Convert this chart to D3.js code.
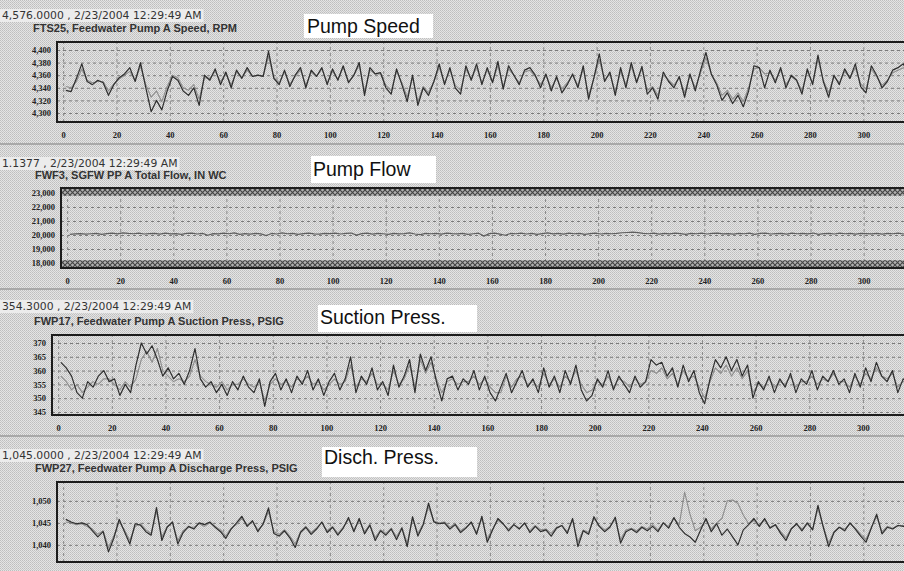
<!DOCTYPE html>
<html>
<head>
<meta charset="utf-8">
<script src="https://cdn.jsdelivr.net/npm/d3@7"></script>
<style>
  html, body { margin: 0; padding: 0; background: #d6d6d6; }
  svg { display: block; }
  .readout { font-family: 'DejaVu Sans', sans-serif; font-size: 10.8px; fill: #333; }
  .tagname { font-family: 'Liberation Sans', Arial, sans-serif; font-size: 11px; font-weight: bold; fill: #333; }
  .big-label { font-family: 'Liberation Sans', Arial, sans-serif; font-size: 19.5px; fill: #111; }
  .tick text { font-family: 'Liberation Serif', serif; font-size: 8.5px; font-weight: bold; fill: #222; }
</style>
</head>
<body>
<div id="chart"></div>
<script>
// trend samples, one every 2 seconds starting at t = 1
var x_ticks = [0, 20, 40, 60, 80, 100, 120, 140, 160, 180, 200, 220, 240, 260, 280, 300];

// FTS25 pump speed, RPM (dark pen and light pen)
var speed_a = [
  4336,4334,4355,4378,4350,4345,4352,4348,4328,4345,
  4356,4362,4372,4350,4380,4340,4302,4320,4305,4335,
  4358,4352,4335,4328,4340,4312,4360,4352,4370,4345,
  4365,4340,4368,4355,4372,4358,4360,4358,4398,4355,
  4345,4368,4342,4360,4372,4340,4368,4358,4372,4345,
  4370,4352,4375,4348,4360,4380,4328,4372,4362,4364,
  4340,4330,4370,4345,4318,4360,4312,4340,4328,4350,
  4378,4345,4372,4340,4330,4375,4352,4378,4345,4372,
  4348,4382,4338,4375,4360,4345,4368,4372,4360,4340,
  4362,4335,4358,4332,4345,4362,4340,4375,4322,4356,
  4394,4350,4365,4328,4372,4340,4380,4348,4374,4330,
  4340,4322,4365,4350,4340,4358,4325,4362,4335,4368,
  4396,4362,4345,4320,4332,4315,4328,4310,4335,4375,
  4372,4340,4368,4348,4372,4340,4360,4352,4330,4370,
  4345,4392,4350,4325,4360,4345,4370,4355,4378,4342,
  4332,4375,4360,4340,4350,4368,4372,4378,4360
];
var speed_b = [
  4342,4340,4350,4370,4352,4348,4350,4350,4335,4346,
  4354,4360,4366,4352,4374,4345,4325,4335,4318,4342,
  4360,4356,4340,4336,4345,4322,4356,4355,4366,4350,
  4362,4345,4365,4356,4368,4358,4360,4358,4390,4356,
  4348,4365,4346,4358,4368,4344,4365,4358,4370,4348,
  4366,4354,4372,4350,4360,4376,4334,4368,4362,4362,
  4344,4335,4366,4348,4325,4356,4318,4342,4332,4350,
  4372,4348,4368,4344,4336,4370,4354,4372,4348,4368,
  4350,4375,4342,4370,4360,4348,4365,4368,4358,4345,
  4360,4340,4355,4338,4348,4360,4344,4370,4328,4355,
  4385,4352,4362,4334,4366,4345,4374,4350,4370,4336,
  4342,4328,4360,4352,4344,4356,4332,4360,4340,4364,
  4388,4362,4348,4328,4336,4322,4332,4318,4340,4370,
  4372,4362,4364,4352,4368,4345,4358,4352,4335,4366,
  4348,4385,4352,4332,4358,4348,4366,4355,4372,4346,
  4338,4370,4358,4344,4352,4364,4368,4372,4364
];

// FWF3 total flow, IN WC
var flow = [
  20050,20080,20100,20060,20090,20120,20040,20100,20130,20080,
  20150,20110,20090,20140,20070,20100,20120,20060,20130,20080,
  20100,20050,20110,20140,20070,20120,19980,20100,20080,20130,
  20090,20150,20040,20100,20060,20120,20080,19960,20110,20070,
  20150,20090,20120,20050,20100,20140,20080,20060,20120,20100,
  20130,20070,20110,20140,19990,20100,20130,20060,20110,20090,
  20040,20120,20080,20100,20150,20070,20030,20110,20090,20120,
  20060,20140,20100,20080,20120,20050,20090,20130,19920,20100,
  20140,20060,19980,20110,20090,20130,20070,20120,20040,20100,
  20150,20080,20110,20060,20130,20090,20120,20050,20100,20140,
  20070,20110,20090,20120,20160,20180,20200,20170,20120,20090,
  20130,20060,20110,20080,20140,20100,20050,20120,20090,20130,
  20070,20110,20140,20080,20100,20060,20120,20090,20130,20050,
  20110,20140,20070,20100,20120,20060,20130,20090,20110,20080,
  20140,20050,20100,20120,20070,20130,20090,20110,20060,20120,
  20100,20080,20110,20060,20120,20090,20130,20070,20100
];
var flow_limits = [[22800, 23360], [17640, 18200]];

// FWP17 suction press, PSIG
var suction_a = [
  363,361,358,352,350,356,354,358,360,356,
  357,351,355,352,362,370,366,369,364,358,
  361,357,359,355,360,368,357,354,356,352,
  355,351,356,353,358,354,352,357,347,356,
  359,353,357,352,358,355,360,353,357,351,
  356,359,353,357,365,352,358,355,361,353,
  356,351,362,354,358,364,352,366,360,365,
  356,349,357,358,353,357,355,360,353,358,
  352,349,354,359,352,356,360,354,357,352,
  361,354,358,352,360,355,362,353,349,351,
  357,354,360,353,358,355,352,358,354,356,
  364,362,363,358,361,354,362,356,360,352,
  348,357,364,361,365,360,364,358,362,350,
  356,353,358,352,357,354,359,352,357,355,
  360,353,358,356,360,355,357,352,359,354,
  361,356,363,358,356,360,352,357,355
];
var suction_b = [
  358,356,353,355,352,354,356,355,357,357,
  355,353,356,354,357,364,367,363,368,360,
  358,356,357,356,358,364,358,356,355,354,
  356,353,355,355,357,355,354,356,349,355,
  357,355,356,354,357,356,358,355,356,353,
  355,357,355,356,362,354,357,356,359,355,
  355,353,360,355,357,362,354,364,359,363,
  357,352,356,357,355,356,356,358,355,357,
  354,352,352,358,354,357,358,355,356,354,
  359,355,357,354,358,356,360,355,352,353,
  356,355,358,354,357,356,354,357,355,356,
  360,359,361,357,359,355,360,357,358,354,
  350,356,361,359,362,358,361,357,360,352,
  355,354,357,354,356,355,358,354,356,356,
  358,355,357,356,359,356,356,354,358,355,
  359,357,361,358,357,359,354,356,356
];

// FWP27 discharge press, PSIG
var discharge_a = [
  1045.8,1045.2,1044.8,1045.0,1044.6,1043.2,1041.8,1043.0,1038.4,1041.5,
  1045.8,1043.0,1040.2,1044.8,1044.5,1043.0,1042.2,1048.5,1041.0,1044.0,
  1045.2,1040.2,1042.8,1044.2,1043.6,1045.0,1044.6,1045.2,1044.0,1043.0,
  1041.5,1043.6,1045.0,1046.5,1044.2,1045.5,1043.0,1044.8,1048.4,1042.6,
  1042.0,1043.2,1041.6,1039.4,1042.8,1044.0,1042.4,1043.6,1045.2,1042.8,
  1044.0,1042.2,1043.8,1046.2,1043.0,1046.0,1042.5,1044.5,1041.0,1043.2,
  1042.2,1043.6,1041.2,1043.8,1039.6,1046.4,1042.0,1044.6,1049.5,1045.2,
  1044.8,1045.0,1043.6,1044.6,1042.8,1043.8,1045.2,1042.4,1046.5,1040.6,
  1043.4,1046.0,1044.8,1043.2,1044.6,1043.6,1045.0,1042.8,1044.2,1043.0,
  1043.4,1042.0,1043.8,1044.4,1042.6,1046.0,1039.6,1043.2,1042.4,1046.4,
  1044.2,1043.0,1044.0,1046.3,1040.4,1043.0,1043.6,1042.8,1044.0,1043.2,
  1044.2,1043.0,1045.0,1043.8,1046.2,1044.0,1042.6,1041.8,1040.6,1043.4,
  1046.0,1043.0,1044.8,1042.2,1043.6,1041.8,1040.0,1043.4,1044.6,1046.0,
  1044.2,1046.0,1043.8,1044.6,1042.6,1041.0,1043.6,1044.8,1043.2,1045.0,
  1043.4,1049.0,1044.0,1039.6,1042.8,1044.0,1043.2,1045.0,1043.6,1042.0,
  1040.6,1043.8,1047.0,1042.5,1044.0,1043.6,1044.4,1044.2,1044.0
];
var discharge_b = [
  1045.2,1045.0,1044.6,1044.8,1044.2,1043.6,1042.4,1043.2,1039.4,1042.0,
  1045.2,1043.4,1041.0,1044.2,1044.8,1043.4,1042.6,1047.6,1041.8,1044.2,
  1045.0,1041.0,1043.2,1044.0,1044.0,1044.8,1044.2,1045.0,1044.2,1043.4,
  1042.0,1043.8,1044.6,1046.0,1044.6,1045.2,1043.4,1044.6,1047.6,1043.0,
  1042.4,1043.4,1042.0,1040.2,1043.0,1044.2,1042.8,1043.8,1045.0,1043.2,
  1044.2,1042.6,1044.0,1045.8,1043.4,1045.6,1043.0,1044.6,1041.6,1043.4,
  1042.6,1043.8,1041.8,1044.0,1040.4,1046.0,1042.6,1044.8,1048.6,1045.4,
  1045.0,1045.2,1044.0,1044.8,1043.2,1044.0,1045.0,1042.8,1046.0,1041.4,
  1043.6,1045.6,1044.6,1043.6,1044.6,1043.8,1044.8,1043.2,1044.4,1043.4,
  1043.6,1042.6,1044.0,1044.4,1043.0,1045.6,1040.6,1043.4,1042.8,1046.0,
  1044.4,1043.4,1044.2,1045.8,1041.2,1043.4,1043.8,1043.2,1044.2,1043.6,
  1044.6,1043.4,1045.0,1044.2,1046.0,1044.6,1052.0,1047.0,1043.2,1044.0,
  1045.6,1043.6,1045.0,1046.0,1050.0,1050.2,1049.4,1046.8,1044.8,1045.6,
  1044.4,1045.6,1044.0,1044.6,1043.0,1041.6,1043.8,1044.6,1043.6,1044.8,
  1043.6,1048.2,1044.2,1040.4,1043.0,1044.0,1043.6,1044.8,1043.8,1042.4,
  1041.2,1044.0,1046.4,1043.0,1044.2,1043.8,1044.4,1044.4,1044.2
];

var readouts  = ['4,576.0000 , 2/23/2004 12:29:49 AM', '1.1377 , 2/23/2004 12:29:49 AM',
                 '354.3000 , 2/23/2004 12:29:49 AM', '1,045.0000 , 2/23/2004 12:29:49 AM'];
var tagnames  = ['FTS25, Feedwater Pump A Speed, RPM', 'FWF3, SGFW PP A Total Flow, IN WC',
                 'FWP17, Feedwater Pump A Suction Press, PSIG', 'FWP27, Feedwater Pump A Discharge Press, PSIG'];
var labels    = ['Pump Speed', 'Pump Flow', 'Suction Press.', 'Disch. Press.'];
var y_ticks   = [[4300, 4320, 4340, 4360, 4380, 4400],
                 [18000, 19000, 20000, 21000, 22000, 23000],
                 [345, 350, 355, 360, 365, 370],
                 [1040, 1045, 1050]];
var y_domains = [[4285.7, 4412.7], [17643, 23357], [343.9, 372.9], [1036.1, 1054.3]];

var width  = 904;
var height = 571;
var x_domain   = [-2.3, 325];
var plot_right = 930; // frame runs off the right side of the printout

var dark_pen  = '#2e2e2e';
var light_pen = '#8c8c8c';
var flow_pen  = '#5e5e5e';

// panel layout (pixels), one entry per trend
var panels = [
    { left: 57, top: 42,  bottom: 122, readout_y: 19,  tag_y: 32,  tag_x: 33,
      box: [304, 14, 129, 24],  label_x: 307, label_y: 33, x_labels: true,
      series: [speed_b, speed_a] },
    { left: 61, top: 188, bottom: 268, readout_y: 167, tag_y: 179, tag_x: 35,
      box: [311, 156, 125, 27], label_x: 313, label_y: 176, x_labels: true,
      series: [flow], bands: flow_limits },
    { left: 52, top: 335, bottom: 415, readout_y: 310, tag_y: 325, tag_x: 34,
      box: [318, 305, 159, 27], label_x: 320, label_y: 324, x_labels: true,
      series: [suction_b, suction_a] },
    // the time labels of the last trend are below the edge of the scan
    { left: 57, top: 482, bottom: 562, readout_y: 459, tag_y: 472, tag_x: 35,
      box: [322, 447, 155, 30], label_x: 324, label_y: 464, x_labels: false,
      series: [discharge_b, discharge_a] }
];
var separators = [144, 289, 436];

var svg = d3.select('#chart')
    .append('svg')
    .attr('width', width)
    .attr('height', height);

var defs = svg.append('defs');

// halftone look of the scanned printout
var dither = defs.append('pattern')
    .attr('id', 'dither')
    .attr('width', 2).attr('height', 2)
    .attr('patternUnits', 'userSpaceOnUse');
dither.append('rect').attr('width', 2).attr('height', 2).attr('fill', '#e4e4e4');
dither.append('rect').attr('width', 1).attr('height', 1).attr('fill', '#bebebe');
dither.append('rect').attr('x', 1).attr('y', 1).attr('width', 1).attr('height', 1).attr('fill', '#c8c8c8');

// cross hatch for the alarm limit bands
var hatch = defs.append('pattern')
    .attr('id', 'hatch')
    .attr('width', 5).attr('height', 5)
    .attr('patternUnits', 'userSpaceOnUse');
hatch.append('rect').attr('width', 5).attr('height', 5).attr('fill', '#b0b0b0');
hatch.append('path').attr('d', 'M0,0L5,5M5,0L0,5')
    .attr('stroke', '#444').attr('stroke-width', 1.1);

svg.append('rect')
    .attr('width', width)
    .attr('height', height)
    .attr('fill', 'url(#dither)');

separators.forEach(function(y) {
    svg.append('line')
        .attr('x1', 0).attr('x2', width)
        .attr('y1', y).attr('y2', y)
        .attr('stroke', '#a8a8a8')
        .attr('stroke-width', 2);
});

panels.forEach(function(p, i) {
    draw_panel(p, i);
});

function draw_panel(p, i) {
    var g = svg.append('g');

    var x_scale = d3.scaleLinear().domain(x_domain).range([p.left, plot_right]);
    var y_scale = d3.scaleLinear().domain(y_domains[i]).range([p.bottom, p.top]);

    // current value read-out on its light strip
    var readout = g.append('text')
        .attr('class', 'readout')
        .attr('x', 2)
        .attr('y', p.readout_y)
        .text(readouts[i]);
    var bb = readout.node().getBBox();
    g.insert('rect', 'text')
        .attr('x', 0).attr('y', bb.y)
        .attr('width', bb.width + 4).attr('height', bb.height)
        .attr('fill', '#ececec');

    g.append('text')
        .attr('class', 'tagname')
        .attr('x', p.tag_x)
        .attr('y', p.tag_y)
        .text(tagnames[i]);

    // the typed caption pasted on the printout
    g.append('rect')
        .attr('x', p.box[0]).attr('y', p.box[1])
        .attr('width', p.box[2]).attr('height', p.box[3])
        .attr('fill', '#ffffff');
    g.append('text')
        .attr('class', 'big-label')
        .attr('x', p.label_x)
        .attr('y', p.label_y)
        .text(labels[i]);

    var plot_w = plot_right - p.left;
    var plot_h = p.bottom - p.top;

    // dashed grid
    g.append('g')
        .attr('transform', 'translate(' + p.left + ',0)')
        .call(d3.axisLeft(y_scale).tickValues(y_ticks[i]).tickSize(-plot_w).tickFormat(''))
        .call(function(a) {
            a.select('.domain').remove();
            a.selectAll('line').attr('stroke', '#7a7a7a').attr('stroke-dasharray', '3,3');
        });
    g.append('g')
        .attr('transform', 'translate(0,' + p.bottom + ')')
        .call(d3.axisBottom(x_scale).tickValues(x_ticks).tickSize(-plot_h).tickFormat(''))
        .call(function(a) {
            a.select('.domain').remove();
            a.selectAll('line').attr('stroke', '#8a8a8a').attr('stroke-dasharray', '3,3');
        });

    var clip_id = 'clip' + i;
    defs.append('clipPath').attr('id', clip_id)
        .append('rect')
        .attr('x', p.left).attr('y', p.top)
        .attr('width', plot_w).attr('height', plot_h);

    var plot = g.append('g').attr('clip-path', 'url(#' + clip_id + ')');

    if (p.bands) {
        plot.selectAll('.band')
            .data(p.bands)
            .enter()
            .append('rect')
            .attr('x', p.left)
            .attr('width', plot_w)
            .attr('y', function(d) { return y_scale(d[1]); })
            .attr('height', function(d) { return y_scale(d[0]) - y_scale(d[1]); })
            .attr('fill', 'url(#hatch)');
    }

    var line = d3.line()
        .x(function(d, j) { return x_scale(1 + j * 2); })
        .y(function(d) { return y_scale(d); });

    p.series.forEach(function(values, k) {
        var is_dark = (k === p.series.length - 1);
        var pen = p.series.length === 1 ? flow_pen : (is_dark ? dark_pen : light_pen);
        plot.append('path')
            .datum(values)
            .attr('fill', 'none')
            .attr('stroke', pen)
            .attr('stroke-width', is_dark ? 1.2 : 1.1)
            .attr('stroke-linejoin', 'round')
            .attr('d', line);
    });

    // frame
    g.append('rect')
        .attr('x', p.left).attr('y', p.top)
        .attr('width', plot_w).attr('height', plot_h)
        .attr('fill', 'none')
        .attr('stroke', '#1c1c1c')
        .attr('stroke-width', 2);

    // axes labels
    g.append('g')
        .attr('transform', 'translate(' + p.left + ',0)')
        .call(d3.axisLeft(y_scale).tickValues(y_ticks[i]).tickSize(0).tickPadding(6).tickFormat(d3.format(',')))
        .call(function(a) { a.select('.domain').remove(); });

    if (p.x_labels) {
        g.append('g')
            .attr('transform', 'translate(0,' + p.bottom + ')')
            .call(d3.axisBottom(x_scale).tickValues(x_ticks).tickSize(0).tickPadding(10))
            .call(function(a) { a.select('.domain').remove(); });
    }
}
</script>
</body>
</html>
